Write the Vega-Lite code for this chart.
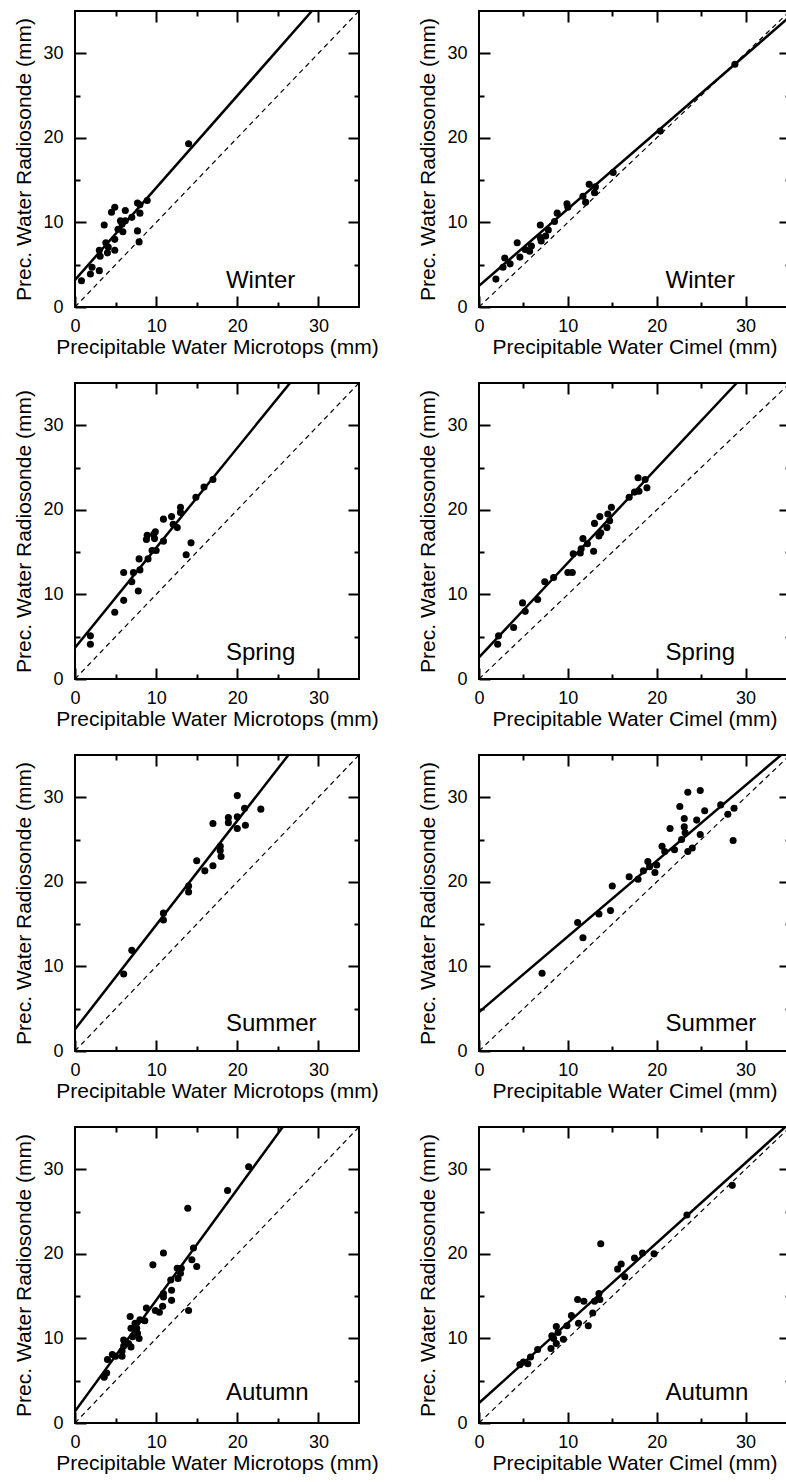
{
  "$schema": "https://vega.github.io/schema/vega-lite/v6.json",
  "padding": {"left": 12, "top": 7, "right": 0, "bottom": 0},
  "spacing": 21,
  "datasets": {
    "diag": [{"x": 0, "y": 0}, {"x": 35, "y": 35}],
    "labels": [
      {"p": "WM", "label": "Winter"}, {"p": "WC", "label": "Winter"},
      {"p": "SpM", "label": "Spring"}, {"p": "SpC", "label": "Spring"},
      {"p": "SuM", "label": "Summer"}, {"p": "SuC", "label": "Summer"},
      {"p": "AM", "label": "Autumn"}, {"p": "AC", "label": "Autumn"}
    ],
    "fits": [
      {"p": "WM", "x": 0, "y": 3.2}, {"p": "WM", "x": 29.2, "y": 35},
      {"p": "WC", "x": 0, "y": 2.5}, {"p": "WC", "x": 35, "y": 34.35},
      {"p": "SpM", "x": 0, "y": 3.7}, {"p": "SpM", "x": 26.5, "y": 35},
      {"p": "SpC", "x": 0, "y": 2.56}, {"p": "SpC", "x": 29.0, "y": 35},
      {"p": "SuM", "x": 0, "y": 2.56}, {"p": "SuM", "x": 26.3, "y": 35},
      {"p": "SuC", "x": 0, "y": 4.6}, {"p": "SuC", "x": 34.0, "y": 35},
      {"p": "AM", "x": 0, "y": 1.38}, {"p": "AM", "x": 25.6, "y": 35},
      {"p": "AC", "x": 0, "y": 2.36}, {"p": "AC", "x": 35, "y": 35.5}
    ],
    "points": [
      {"p":"WM","x":0.8,"y":3.1},{"p":"WM","x":1.9,"y":3.9},{"p":"WM","x":2.1,"y":4.7},{"p":"WM","x":3.0,"y":4.3},{"p":"WM","x":3.0,"y":6.7},{"p":"WM","x":3.1,"y":6.0},{"p":"WM","x":3.6,"y":9.7},{"p":"WM","x":3.8,"y":7.6},{"p":"WM","x":4.0,"y":6.4},{"p":"WM","x":4.1,"y":7.1},{"p":"WM","x":4.5,"y":11.2},{"p":"WM","x":4.9,"y":11.8},{"p":"WM","x":4.9,"y":8.0},{"p":"WM","x":4.9,"y":6.7},{"p":"WM","x":5.3,"y":9.2},{"p":"WM","x":5.6,"y":10.2},{"p":"WM","x":5.8,"y":9.8},{"p":"WM","x":5.9,"y":8.9},{"p":"WM","x":6.2,"y":11.4},{"p":"WM","x":6.2,"y":10.2},{"p":"WM","x":7.0,"y":10.6},{"p":"WM","x":7.7,"y":12.3},{"p":"WM","x":7.7,"y":9.0},{"p":"WM","x":7.9,"y":7.7},{"p":"WM","x":8.0,"y":11.1},{"p":"WM","x":8.0,"y":12.1},{"p":"WM","x":8.9,"y":12.6},{"p":"WM","x":14.0,"y":19.3},
      {"p":"WC","x":1.9,"y":3.3},{"p":"WC","x":2.7,"y":4.7},{"p":"WC","x":2.9,"y":5.8},{"p":"WC","x":3.5,"y":5.1},{"p":"WC","x":4.3,"y":7.6},{"p":"WC","x":4.6,"y":5.9},{"p":"WC","x":5.2,"y":6.8},{"p":"WC","x":5.7,"y":6.6},{"p":"WC","x":5.9,"y":7.2},{"p":"WC","x":6.9,"y":8.2},{"p":"WC","x":6.9,"y":9.7},{"p":"WC","x":7.0,"y":7.8},{"p":"WC","x":7.5,"y":8.4},{"p":"WC","x":7.8,"y":9.1},{"p":"WC","x":8.5,"y":10.1},{"p":"WC","x":8.8,"y":11.1},{"p":"WC","x":9.9,"y":12.2},{"p":"WC","x":10.0,"y":11.8},{"p":"WC","x":11.7,"y":13.1},{"p":"WC","x":12.0,"y":12.4},{"p":"WC","x":12.4,"y":14.5},{"p":"WC","x":13.0,"y":13.5},{"p":"WC","x":13.1,"y":14.2},{"p":"WC","x":15.1,"y":15.9},{"p":"WC","x":20.4,"y":20.8},{"p":"WC","x":28.8,"y":28.7},
      {"p":"SpM","x":1.9,"y":5.1},{"p":"SpM","x":1.9,"y":4.1},{"p":"SpM","x":4.9,"y":7.9},{"p":"SpM","x":6.0,"y":12.6},{"p":"SpM","x":6.0,"y":9.3},{"p":"SpM","x":7.0,"y":11.5},{"p":"SpM","x":7.2,"y":12.6},{"p":"SpM","x":7.9,"y":14.2},{"p":"SpM","x":8.0,"y":12.9},{"p":"SpM","x":7.8,"y":10.4},{"p":"SpM","x":8.8,"y":16.5},{"p":"SpM","x":8.9,"y":17.0},{"p":"SpM","x":9.0,"y":14.2},{"p":"SpM","x":9.5,"y":15.2},{"p":"SpM","x":9.7,"y":17.1},{"p":"SpM","x":9.9,"y":17.4},{"p":"SpM","x":9.8,"y":16.6},{"p":"SpM","x":10.0,"y":15.2},{"p":"SpM","x":10.9,"y":16.3},{"p":"SpM","x":10.9,"y":18.9},{"p":"SpM","x":11.9,"y":19.2},{"p":"SpM","x":12.1,"y":18.3},{"p":"SpM","x":12.6,"y":17.9},{"p":"SpM","x":13.0,"y":20.3},{"p":"SpM","x":13.0,"y":19.7},{"p":"SpM","x":13.7,"y":14.7},{"p":"SpM","x":14.3,"y":16.1},{"p":"SpM","x":14.9,"y":21.5},{"p":"SpM","x":15.9,"y":22.7},{"p":"SpM","x":17.0,"y":23.6},
      {"p":"SpC","x":2.1,"y":4.1},{"p":"SpC","x":2.2,"y":5.1},{"p":"SpC","x":3.9,"y":6.1},{"p":"SpC","x":4.9,"y":9.0},{"p":"SpC","x":5.2,"y":8.0},{"p":"SpC","x":6.6,"y":9.4},{"p":"SpC","x":7.4,"y":11.5},{"p":"SpC","x":8.4,"y":12.0},{"p":"SpC","x":10.0,"y":12.6},{"p":"SpC","x":10.5,"y":12.6},{"p":"SpC","x":10.6,"y":14.8},{"p":"SpC","x":11.4,"y":14.9},{"p":"SpC","x":11.5,"y":15.4},{"p":"SpC","x":11.7,"y":16.6},{"p":"SpC","x":12.2,"y":16.0},{"p":"SpC","x":12.9,"y":15.1},{"p":"SpC","x":13.0,"y":18.4},{"p":"SpC","x":13.5,"y":16.9},{"p":"SpC","x":13.6,"y":19.2},{"p":"SpC","x":13.7,"y":17.3},{"p":"SpC","x":14.4,"y":17.9},{"p":"SpC","x":14.5,"y":19.5},{"p":"SpC","x":14.7,"y":18.7},{"p":"SpC","x":14.9,"y":20.3},{"p":"SpC","x":16.9,"y":21.5},{"p":"SpC","x":17.5,"y":22.1},{"p":"SpC","x":17.9,"y":23.8},{"p":"SpC","x":18.0,"y":22.2},{"p":"SpC","x":18.7,"y":23.6},{"p":"SpC","x":18.9,"y":22.6},
      {"p":"SuM","x":6.0,"y":9.1},{"p":"SuM","x":7.0,"y":11.9},{"p":"SuM","x":10.9,"y":16.3},{"p":"SuM","x":10.9,"y":15.5},{"p":"SuM","x":14.0,"y":19.5},{"p":"SuM","x":14.0,"y":18.8},{"p":"SuM","x":15.0,"y":22.5},{"p":"SuM","x":16.0,"y":21.3},{"p":"SuM","x":17.0,"y":26.9},{"p":"SuM","x":17.0,"y":21.9},{"p":"SuM","x":17.9,"y":24.2},{"p":"SuM","x":17.9,"y":23.7},{"p":"SuM","x":18.0,"y":23.0},{"p":"SuM","x":18.9,"y":27.6},{"p":"SuM","x":18.9,"y":27.0},{"p":"SuM","x":20.0,"y":30.2},{"p":"SuM","x":20.0,"y":27.7},{"p":"SuM","x":20.0,"y":26.3},{"p":"SuM","x":20.9,"y":28.7},{"p":"SuM","x":21.0,"y":26.7},{"p":"SuM","x":22.9,"y":28.6},
      {"p":"SuC","x":7.1,"y":9.2},{"p":"SuC","x":11.1,"y":15.2},{"p":"SuC","x":11.7,"y":13.4},{"p":"SuC","x":13.5,"y":16.2},{"p":"SuC","x":14.8,"y":16.6},{"p":"SuC","x":15.0,"y":19.5},{"p":"SuC","x":16.9,"y":20.6},{"p":"SuC","x":17.9,"y":20.3},{"p":"SuC","x":18.5,"y":21.3},{"p":"SuC","x":19.0,"y":22.4},{"p":"SuC","x":19.2,"y":21.8},{"p":"SuC","x":19.8,"y":21.1},{"p":"SuC","x":20.0,"y":22.0},{"p":"SuC","x":20.6,"y":24.2},{"p":"SuC","x":20.9,"y":23.6},{"p":"SuC","x":21.5,"y":26.3},{"p":"SuC","x":22.0,"y":23.8},{"p":"SuC","x":22.6,"y":28.9},{"p":"SuC","x":22.8,"y":25.0},{"p":"SuC","x":23.1,"y":27.5},{"p":"SuC","x":23.1,"y":26.5},{"p":"SuC","x":23.2,"y":25.8},{"p":"SuC","x":23.5,"y":30.6},{"p":"SuC","x":23.5,"y":23.6},{"p":"SuC","x":24.0,"y":24.0},{"p":"SuC","x":24.5,"y":27.3},{"p":"SuC","x":24.9,"y":25.6},{"p":"SuC","x":24.9,"y":30.8},{"p":"SuC","x":25.4,"y":28.4},{"p":"SuC","x":27.2,"y":29.1},{"p":"SuC","x":28.0,"y":28.0},{"p":"SuC","x":28.6,"y":24.9},{"p":"SuC","x":28.7,"y":28.7},
      {"p":"AM","x":3.6,"y":5.4},{"p":"AM","x":3.9,"y":5.9},{"p":"AM","x":4.0,"y":7.5},{"p":"AM","x":4.6,"y":8.1},{"p":"AM","x":5.0,"y":7.9},{"p":"AM","x":5.8,"y":7.9},{"p":"AM","x":5.8,"y":8.5},{"p":"AM","x":6.0,"y":9.8},{"p":"AM","x":6.0,"y":9.1},{"p":"AM","x":6.6,"y":9.4},{"p":"AM","x":6.8,"y":12.6},{"p":"AM","x":6.9,"y":11.2},{"p":"AM","x":6.9,"y":9.0},{"p":"AM","x":7.1,"y":10.2},{"p":"AM","x":7.4,"y":11.8},{"p":"AM","x":7.6,"y":11.2},{"p":"AM","x":7.7,"y":10.6},{"p":"AM","x":7.9,"y":10.0},{"p":"AM","x":8.0,"y":12.2},{"p":"AM","x":8.6,"y":12.1},{"p":"AM","x":8.8,"y":13.6},{"p":"AM","x":9.6,"y":18.7},{"p":"AM","x":9.9,"y":13.3},{"p":"AM","x":10.4,"y":13.1},{"p":"AM","x":10.8,"y":13.8},{"p":"AM","x":10.9,"y":20.1},{"p":"AM","x":10.9,"y":14.9},{"p":"AM","x":10.9,"y":15.3},{"p":"AM","x":11.8,"y":16.9},{"p":"AM","x":11.9,"y":15.7},{"p":"AM","x":11.9,"y":14.5},{"p":"AM","x":12.6,"y":18.3},{"p":"AM","x":12.7,"y":17.1},{"p":"AM","x":13.0,"y":17.7},{"p":"AM","x":13.1,"y":18.3},{"p":"AM","x":13.9,"y":25.4},{"p":"AM","x":14.0,"y":13.3},{"p":"AM","x":14.4,"y":19.3},{"p":"AM","x":14.6,"y":20.7},{"p":"AM","x":15.0,"y":18.5},{"p":"AM","x":18.8,"y":27.5},{"p":"AM","x":21.4,"y":30.3},
      {"p":"AC","x":4.6,"y":6.9},{"p":"AC","x":5.0,"y":7.2},{"p":"AC","x":5.5,"y":7.0},{"p":"AC","x":5.8,"y":7.8},{"p":"AC","x":6.6,"y":8.7},{"p":"AC","x":8.1,"y":8.8},{"p":"AC","x":8.2,"y":10.3},{"p":"AC","x":8.4,"y":10.0},{"p":"AC","x":8.7,"y":11.4},{"p":"AC","x":8.9,"y":10.7},{"p":"AC","x":8.7,"y":9.4},{"p":"AC","x":9.5,"y":9.9},{"p":"AC","x":9.9,"y":11.5},{"p":"AC","x":10.4,"y":12.7},{"p":"AC","x":11.1,"y":14.6},{"p":"AC","x":11.2,"y":11.8},{"p":"AC","x":11.8,"y":14.4},{"p":"AC","x":12.3,"y":11.5},{"p":"AC","x":12.8,"y":13.0},{"p":"AC","x":13.0,"y":14.4},{"p":"AC","x":13.5,"y":15.3},{"p":"AC","x":13.6,"y":14.6},{"p":"AC","x":13.7,"y":21.2},{"p":"AC","x":15.6,"y":18.2},{"p":"AC","x":16.0,"y":18.8},{"p":"AC","x":16.4,"y":17.3},{"p":"AC","x":17.5,"y":19.5},{"p":"AC","x":18.4,"y":20.1},{"p":"AC","x":19.7,"y":20.0},{"p":"AC","x":23.4,"y":24.6},{"p":"AC","x":28.5,"y":28.1}
    ]
  },
  "vconcat": [
    {"hconcat": [
      {"width": 284, "height": 296, "resolve": {"axis": {"x": "independent", "y": "independent"}}, "layer": [
        {"data": {"name": "diag"}, "mark": {"type": "line", "color": "black", "strokeWidth": 1.2, "strokeDash": [5, 4]}, "encoding": {"x": {"field": "x", "type": "quantitative", "scale": {"domain": [0, 35], "nice": false, "zero": false}, "axis": {"orient": "top", "values": [10, 20, 30], "labels": false, "title": null, "tickSize": 11, "offset": -11}}, "y": {"field": "y", "type": "quantitative", "scale": {"domain": [0, 35], "nice": false, "zero": false}, "axis": {"orient": "right", "values": [10, 20, 30], "labels": false, "title": null, "tickSize": 11, "offset": -11}}}},
        {"data": {"name": "fits"}, "transform": [{"filter": "datum.p === 'WM'"}], "mark": {"type": "line", "color": "black", "strokeWidth": 2.5, "clip": true}, "encoding": {"x": {"field": "x", "type": "quantitative", "scale": {"domain": [0, 35], "nice": false, "zero": false}, "axis": {"orient": "top", "values": [5, 15, 25], "labels": false, "title": null, "tickSize": 5, "offset": -5}}, "y": {"field": "y", "type": "quantitative", "scale": {"domain": [0, 35], "nice": false, "zero": false}, "axis": {"orient": "right", "values": [5, 15, 25], "labels": false, "title": null, "tickSize": 5, "offset": -5}}}},
        {"data": {"name": "points"}, "transform": [{"filter": "datum.p === 'WM'"}], "mark": {"type": "circle", "color": "black", "size": 50, "opacity": 1}, "encoding": {"x": {"field": "x", "type": "quantitative", "scale": {"domain": [0, 35], "nice": false, "zero": false}, "axis": {"orient": "bottom", "title": "Precipitable Water Microtops (mm)", "values": [0, 10, 20, 30], "tickSize": 11, "offset": -11, "labelPadding": 10, "titlePadding": 1}}, "y": {"field": "y", "type": "quantitative", "scale": {"domain": [0, 35], "nice": false, "zero": false}, "axis": {"orient": "left", "title": "Prec. Water Radiosonde (mm)", "values": [0, 10, 20, 30], "tickSize": 11, "offset": -11, "labelPadding": 12, "titlePadding": 8}}}},
        {"data": {"name": "labels"}, "transform": [{"filter": "datum.p === 'WM'"}], "mark": {"type": "text", "align": "left", "baseline": "alphabetic", "fontSize": 24, "font": "Liberation Sans", "color": "black"}, "encoding": {"x": {"datum": 18.6, "type": "quantitative", "scale": {"domain": [0, 35], "nice": false, "zero": false}, "axis": {"orient": "bottom", "values": [5, 15, 25], "labels": false, "title": null, "tickSize": 5, "offset": -5}}, "y": {"datum": 2.2, "type": "quantitative", "scale": {"domain": [0, 35], "nice": false, "zero": false}, "axis": {"orient": "left", "values": [5, 15, 25], "labels": false, "title": null, "tickSize": 5, "offset": -5}}, "text": {"field": "label"}}}
      ]},
      {"width": 311, "height": 296, "resolve": {"axis": {"x": "independent", "y": "independent"}}, "layer": [
        {"data": {"name": "diag"}, "mark": {"type": "line", "color": "black", "strokeWidth": 1.2, "strokeDash": [5, 4]}, "encoding": {"x": {"field": "x", "type": "quantitative", "scale": {"domain": [0, 35], "nice": false, "zero": false}, "axis": {"orient": "top", "values": [10, 20, 30], "labels": false, "title": null, "tickSize": 11, "offset": -11}}, "y": {"field": "y", "type": "quantitative", "scale": {"domain": [0, 35], "nice": false, "zero": false}, "axis": {"orient": "right", "values": [10, 20, 30], "labels": false, "title": null, "tickSize": 11, "offset": -11}}}},
        {"data": {"name": "fits"}, "transform": [{"filter": "datum.p === 'WC'"}], "mark": {"type": "line", "color": "black", "strokeWidth": 2.5, "clip": true}, "encoding": {"x": {"field": "x", "type": "quantitative", "scale": {"domain": [0, 35], "nice": false, "zero": false}, "axis": {"orient": "top", "values": [5, 15, 25], "labels": false, "title": null, "tickSize": 5, "offset": -5}}, "y": {"field": "y", "type": "quantitative", "scale": {"domain": [0, 35], "nice": false, "zero": false}, "axis": {"orient": "right", "values": [5, 15, 25], "labels": false, "title": null, "tickSize": 5, "offset": -5}}}},
        {"data": {"name": "points"}, "transform": [{"filter": "datum.p === 'WC'"}], "mark": {"type": "circle", "color": "black", "size": 50, "opacity": 1}, "encoding": {"x": {"field": "x", "type": "quantitative", "scale": {"domain": [0, 35], "nice": false, "zero": false}, "axis": {"orient": "bottom", "title": "Precipitable Water Cimel (mm)", "values": [0, 10, 20, 30], "tickSize": 11, "offset": -11, "labelPadding": 10, "titlePadding": 1}}, "y": {"field": "y", "type": "quantitative", "scale": {"domain": [0, 35], "nice": false, "zero": false}, "axis": {"orient": "left", "title": "Prec. Water Radiosonde (mm)", "values": [0, 10, 20, 30], "tickSize": 11, "offset": -11, "labelPadding": 12, "titlePadding": 8}}}},
        {"data": {"name": "labels"}, "transform": [{"filter": "datum.p === 'WC'"}], "mark": {"type": "text", "align": "left", "baseline": "alphabetic", "fontSize": 24, "font": "Liberation Sans", "color": "black"}, "encoding": {"x": {"datum": 21.0, "type": "quantitative", "scale": {"domain": [0, 35], "nice": false, "zero": false}, "axis": {"orient": "bottom", "values": [5, 15, 25], "labels": false, "title": null, "tickSize": 5, "offset": -5}}, "y": {"datum": 2.2, "type": "quantitative", "scale": {"domain": [0, 35], "nice": false, "zero": false}, "axis": {"orient": "left", "values": [5, 15, 25], "labels": false, "title": null, "tickSize": 5, "offset": -5}}, "text": {"field": "label"}}}
      ]}
    ]},
    {"hconcat": [
      {"width": 284, "height": 296, "resolve": {"axis": {"x": "independent", "y": "independent"}}, "layer": [
        {"data": {"name": "diag"}, "mark": {"type": "line", "color": "black", "strokeWidth": 1.2, "strokeDash": [5, 4]}, "encoding": {"x": {"field": "x", "type": "quantitative", "scale": {"domain": [0, 35], "nice": false, "zero": false}, "axis": {"orient": "top", "values": [10, 20, 30], "labels": false, "title": null, "tickSize": 11, "offset": -11}}, "y": {"field": "y", "type": "quantitative", "scale": {"domain": [0, 35], "nice": false, "zero": false}, "axis": {"orient": "right", "values": [10, 20, 30], "labels": false, "title": null, "tickSize": 11, "offset": -11}}}},
        {"data": {"name": "fits"}, "transform": [{"filter": "datum.p === 'SpM'"}], "mark": {"type": "line", "color": "black", "strokeWidth": 2.5, "clip": true}, "encoding": {"x": {"field": "x", "type": "quantitative", "scale": {"domain": [0, 35], "nice": false, "zero": false}, "axis": {"orient": "top", "values": [5, 15, 25], "labels": false, "title": null, "tickSize": 5, "offset": -5}}, "y": {"field": "y", "type": "quantitative", "scale": {"domain": [0, 35], "nice": false, "zero": false}, "axis": {"orient": "right", "values": [5, 15, 25], "labels": false, "title": null, "tickSize": 5, "offset": -5}}}},
        {"data": {"name": "points"}, "transform": [{"filter": "datum.p === 'SpM'"}], "mark": {"type": "circle", "color": "black", "size": 50, "opacity": 1}, "encoding": {"x": {"field": "x", "type": "quantitative", "scale": {"domain": [0, 35], "nice": false, "zero": false}, "axis": {"orient": "bottom", "title": "Precipitable Water Microtops (mm)", "values": [0, 10, 20, 30], "tickSize": 11, "offset": -11, "labelPadding": 10, "titlePadding": 1}}, "y": {"field": "y", "type": "quantitative", "scale": {"domain": [0, 35], "nice": false, "zero": false}, "axis": {"orient": "left", "title": "Prec. Water Radiosonde (mm)", "values": [0, 10, 20, 30], "tickSize": 11, "offset": -11, "labelPadding": 12, "titlePadding": 8}}}},
        {"data": {"name": "labels"}, "transform": [{"filter": "datum.p === 'SpM'"}], "mark": {"type": "text", "align": "left", "baseline": "alphabetic", "fontSize": 24, "font": "Liberation Sans", "color": "black"}, "encoding": {"x": {"datum": 18.6, "type": "quantitative", "scale": {"domain": [0, 35], "nice": false, "zero": false}, "axis": {"orient": "bottom", "values": [5, 15, 25], "labels": false, "title": null, "tickSize": 5, "offset": -5}}, "y": {"datum": 2.2, "type": "quantitative", "scale": {"domain": [0, 35], "nice": false, "zero": false}, "axis": {"orient": "left", "values": [5, 15, 25], "labels": false, "title": null, "tickSize": 5, "offset": -5}}, "text": {"field": "label"}}}
      ]},
      {"width": 311, "height": 296, "resolve": {"axis": {"x": "independent", "y": "independent"}}, "layer": [
        {"data": {"name": "diag"}, "mark": {"type": "line", "color": "black", "strokeWidth": 1.2, "strokeDash": [5, 4]}, "encoding": {"x": {"field": "x", "type": "quantitative", "scale": {"domain": [0, 35], "nice": false, "zero": false}, "axis": {"orient": "top", "values": [10, 20, 30], "labels": false, "title": null, "tickSize": 11, "offset": -11}}, "y": {"field": "y", "type": "quantitative", "scale": {"domain": [0, 35], "nice": false, "zero": false}, "axis": {"orient": "right", "values": [10, 20, 30], "labels": false, "title": null, "tickSize": 11, "offset": -11}}}},
        {"data": {"name": "fits"}, "transform": [{"filter": "datum.p === 'SpC'"}], "mark": {"type": "line", "color": "black", "strokeWidth": 2.5, "clip": true}, "encoding": {"x": {"field": "x", "type": "quantitative", "scale": {"domain": [0, 35], "nice": false, "zero": false}, "axis": {"orient": "top", "values": [5, 15, 25], "labels": false, "title": null, "tickSize": 5, "offset": -5}}, "y": {"field": "y", "type": "quantitative", "scale": {"domain": [0, 35], "nice": false, "zero": false}, "axis": {"orient": "right", "values": [5, 15, 25], "labels": false, "title": null, "tickSize": 5, "offset": -5}}}},
        {"data": {"name": "points"}, "transform": [{"filter": "datum.p === 'SpC'"}], "mark": {"type": "circle", "color": "black", "size": 50, "opacity": 1}, "encoding": {"x": {"field": "x", "type": "quantitative", "scale": {"domain": [0, 35], "nice": false, "zero": false}, "axis": {"orient": "bottom", "title": "Precipitable Water Cimel (mm)", "values": [0, 10, 20, 30], "tickSize": 11, "offset": -11, "labelPadding": 10, "titlePadding": 1}}, "y": {"field": "y", "type": "quantitative", "scale": {"domain": [0, 35], "nice": false, "zero": false}, "axis": {"orient": "left", "title": "Prec. Water Radiosonde (mm)", "values": [0, 10, 20, 30], "tickSize": 11, "offset": -11, "labelPadding": 12, "titlePadding": 8}}}},
        {"data": {"name": "labels"}, "transform": [{"filter": "datum.p === 'SpC'"}], "mark": {"type": "text", "align": "left", "baseline": "alphabetic", "fontSize": 24, "font": "Liberation Sans", "color": "black"}, "encoding": {"x": {"datum": 21.0, "type": "quantitative", "scale": {"domain": [0, 35], "nice": false, "zero": false}, "axis": {"orient": "bottom", "values": [5, 15, 25], "labels": false, "title": null, "tickSize": 5, "offset": -5}}, "y": {"datum": 2.2, "type": "quantitative", "scale": {"domain": [0, 35], "nice": false, "zero": false}, "axis": {"orient": "left", "values": [5, 15, 25], "labels": false, "title": null, "tickSize": 5, "offset": -5}}, "text": {"field": "label"}}}
      ]}
    ]},
    {"hconcat": [
      {"width": 284, "height": 296, "resolve": {"axis": {"x": "independent", "y": "independent"}}, "layer": [
        {"data": {"name": "diag"}, "mark": {"type": "line", "color": "black", "strokeWidth": 1.2, "strokeDash": [5, 4]}, "encoding": {"x": {"field": "x", "type": "quantitative", "scale": {"domain": [0, 35], "nice": false, "zero": false}, "axis": {"orient": "top", "values": [10, 20, 30], "labels": false, "title": null, "tickSize": 11, "offset": -11}}, "y": {"field": "y", "type": "quantitative", "scale": {"domain": [0, 35], "nice": false, "zero": false}, "axis": {"orient": "right", "values": [10, 20, 30], "labels": false, "title": null, "tickSize": 11, "offset": -11}}}},
        {"data": {"name": "fits"}, "transform": [{"filter": "datum.p === 'SuM'"}], "mark": {"type": "line", "color": "black", "strokeWidth": 2.5, "clip": true}, "encoding": {"x": {"field": "x", "type": "quantitative", "scale": {"domain": [0, 35], "nice": false, "zero": false}, "axis": {"orient": "top", "values": [5, 15, 25], "labels": false, "title": null, "tickSize": 5, "offset": -5}}, "y": {"field": "y", "type": "quantitative", "scale": {"domain": [0, 35], "nice": false, "zero": false}, "axis": {"orient": "right", "values": [5, 15, 25], "labels": false, "title": null, "tickSize": 5, "offset": -5}}}},
        {"data": {"name": "points"}, "transform": [{"filter": "datum.p === 'SuM'"}], "mark": {"type": "circle", "color": "black", "size": 50, "opacity": 1}, "encoding": {"x": {"field": "x", "type": "quantitative", "scale": {"domain": [0, 35], "nice": false, "zero": false}, "axis": {"orient": "bottom", "title": "Precipitable Water Microtops (mm)", "values": [0, 10, 20, 30], "tickSize": 11, "offset": -11, "labelPadding": 10, "titlePadding": 1}}, "y": {"field": "y", "type": "quantitative", "scale": {"domain": [0, 35], "nice": false, "zero": false}, "axis": {"orient": "left", "title": "Prec. Water Radiosonde (mm)", "values": [0, 10, 20, 30], "tickSize": 11, "offset": -11, "labelPadding": 12, "titlePadding": 8}}}},
        {"data": {"name": "labels"}, "transform": [{"filter": "datum.p === 'SuM'"}], "mark": {"type": "text", "align": "left", "baseline": "alphabetic", "fontSize": 24, "font": "Liberation Sans", "color": "black"}, "encoding": {"x": {"datum": 18.6, "type": "quantitative", "scale": {"domain": [0, 35], "nice": false, "zero": false}, "axis": {"orient": "bottom", "values": [5, 15, 25], "labels": false, "title": null, "tickSize": 5, "offset": -5}}, "y": {"datum": 2.4, "type": "quantitative", "scale": {"domain": [0, 35], "nice": false, "zero": false}, "axis": {"orient": "left", "values": [5, 15, 25], "labels": false, "title": null, "tickSize": 5, "offset": -5}}, "text": {"field": "label"}}}
      ]},
      {"width": 311, "height": 296, "resolve": {"axis": {"x": "independent", "y": "independent"}}, "layer": [
        {"data": {"name": "diag"}, "mark": {"type": "line", "color": "black", "strokeWidth": 1.2, "strokeDash": [5, 4]}, "encoding": {"x": {"field": "x", "type": "quantitative", "scale": {"domain": [0, 35], "nice": false, "zero": false}, "axis": {"orient": "top", "values": [10, 20, 30], "labels": false, "title": null, "tickSize": 11, "offset": -11}}, "y": {"field": "y", "type": "quantitative", "scale": {"domain": [0, 35], "nice": false, "zero": false}, "axis": {"orient": "right", "values": [10, 20, 30], "labels": false, "title": null, "tickSize": 11, "offset": -11}}}},
        {"data": {"name": "fits"}, "transform": [{"filter": "datum.p === 'SuC'"}], "mark": {"type": "line", "color": "black", "strokeWidth": 2.5, "clip": true}, "encoding": {"x": {"field": "x", "type": "quantitative", "scale": {"domain": [0, 35], "nice": false, "zero": false}, "axis": {"orient": "top", "values": [5, 15, 25], "labels": false, "title": null, "tickSize": 5, "offset": -5}}, "y": {"field": "y", "type": "quantitative", "scale": {"domain": [0, 35], "nice": false, "zero": false}, "axis": {"orient": "right", "values": [5, 15, 25], "labels": false, "title": null, "tickSize": 5, "offset": -5}}}},
        {"data": {"name": "points"}, "transform": [{"filter": "datum.p === 'SuC'"}], "mark": {"type": "circle", "color": "black", "size": 50, "opacity": 1}, "encoding": {"x": {"field": "x", "type": "quantitative", "scale": {"domain": [0, 35], "nice": false, "zero": false}, "axis": {"orient": "bottom", "title": "Precipitable Water Cimel (mm)", "values": [0, 10, 20, 30], "tickSize": 11, "offset": -11, "labelPadding": 10, "titlePadding": 1}}, "y": {"field": "y", "type": "quantitative", "scale": {"domain": [0, 35], "nice": false, "zero": false}, "axis": {"orient": "left", "title": "Prec. Water Radiosonde (mm)", "values": [0, 10, 20, 30], "tickSize": 11, "offset": -11, "labelPadding": 12, "titlePadding": 8}}}},
        {"data": {"name": "labels"}, "transform": [{"filter": "datum.p === 'SuC'"}], "mark": {"type": "text", "align": "left", "baseline": "alphabetic", "fontSize": 24, "font": "Liberation Sans", "color": "black"}, "encoding": {"x": {"datum": 21.0, "type": "quantitative", "scale": {"domain": [0, 35], "nice": false, "zero": false}, "axis": {"orient": "bottom", "values": [5, 15, 25], "labels": false, "title": null, "tickSize": 5, "offset": -5}}, "y": {"datum": 2.4, "type": "quantitative", "scale": {"domain": [0, 35], "nice": false, "zero": false}, "axis": {"orient": "left", "values": [5, 15, 25], "labels": false, "title": null, "tickSize": 5, "offset": -5}}, "text": {"field": "label"}}}
      ]}
    ]},
    {"hconcat": [
      {"width": 284, "height": 296, "resolve": {"axis": {"x": "independent", "y": "independent"}}, "layer": [
        {"data": {"name": "diag"}, "mark": {"type": "line", "color": "black", "strokeWidth": 1.2, "strokeDash": [5, 4]}, "encoding": {"x": {"field": "x", "type": "quantitative", "scale": {"domain": [0, 35], "nice": false, "zero": false}, "axis": {"orient": "top", "values": [10, 20, 30], "labels": false, "title": null, "tickSize": 11, "offset": -11}}, "y": {"field": "y", "type": "quantitative", "scale": {"domain": [0, 35], "nice": false, "zero": false}, "axis": {"orient": "right", "values": [10, 20, 30], "labels": false, "title": null, "tickSize": 11, "offset": -11}}}},
        {"data": {"name": "fits"}, "transform": [{"filter": "datum.p === 'AM'"}], "mark": {"type": "line", "color": "black", "strokeWidth": 2.5, "clip": true}, "encoding": {"x": {"field": "x", "type": "quantitative", "scale": {"domain": [0, 35], "nice": false, "zero": false}, "axis": {"orient": "top", "values": [5, 15, 25], "labels": false, "title": null, "tickSize": 5, "offset": -5}}, "y": {"field": "y", "type": "quantitative", "scale": {"domain": [0, 35], "nice": false, "zero": false}, "axis": {"orient": "right", "values": [5, 15, 25], "labels": false, "title": null, "tickSize": 5, "offset": -5}}}},
        {"data": {"name": "points"}, "transform": [{"filter": "datum.p === 'AM'"}], "mark": {"type": "circle", "color": "black", "size": 50, "opacity": 1}, "encoding": {"x": {"field": "x", "type": "quantitative", "scale": {"domain": [0, 35], "nice": false, "zero": false}, "axis": {"orient": "bottom", "title": "Precipitable Water Microtops (mm)", "values": [0, 10, 20, 30], "tickSize": 11, "offset": -11, "labelPadding": 10, "titlePadding": 1}}, "y": {"field": "y", "type": "quantitative", "scale": {"domain": [0, 35], "nice": false, "zero": false}, "axis": {"orient": "left", "title": "Prec. Water Radiosonde (mm)", "values": [0, 10, 20, 30], "tickSize": 11, "offset": -11, "labelPadding": 12, "titlePadding": 8}}}},
        {"data": {"name": "labels"}, "transform": [{"filter": "datum.p === 'AM'"}], "mark": {"type": "text", "align": "left", "baseline": "alphabetic", "fontSize": 24, "font": "Liberation Sans", "color": "black"}, "encoding": {"x": {"datum": 18.6, "type": "quantitative", "scale": {"domain": [0, 35], "nice": false, "zero": false}, "axis": {"orient": "bottom", "values": [5, 15, 25], "labels": false, "title": null, "tickSize": 5, "offset": -5}}, "y": {"datum": 2.7, "type": "quantitative", "scale": {"domain": [0, 35], "nice": false, "zero": false}, "axis": {"orient": "left", "values": [5, 15, 25], "labels": false, "title": null, "tickSize": 5, "offset": -5}}, "text": {"field": "label"}}}
      ]},
      {"width": 311, "height": 296, "resolve": {"axis": {"x": "independent", "y": "independent"}}, "layer": [
        {"data": {"name": "diag"}, "mark": {"type": "line", "color": "black", "strokeWidth": 1.2, "strokeDash": [5, 4]}, "encoding": {"x": {"field": "x", "type": "quantitative", "scale": {"domain": [0, 35], "nice": false, "zero": false}, "axis": {"orient": "top", "values": [10, 20, 30], "labels": false, "title": null, "tickSize": 11, "offset": -11}}, "y": {"field": "y", "type": "quantitative", "scale": {"domain": [0, 35], "nice": false, "zero": false}, "axis": {"orient": "right", "values": [10, 20, 30], "labels": false, "title": null, "tickSize": 11, "offset": -11}}}},
        {"data": {"name": "fits"}, "transform": [{"filter": "datum.p === 'AC'"}], "mark": {"type": "line", "color": "black", "strokeWidth": 2.5, "clip": true}, "encoding": {"x": {"field": "x", "type": "quantitative", "scale": {"domain": [0, 35], "nice": false, "zero": false}, "axis": {"orient": "top", "values": [5, 15, 25], "labels": false, "title": null, "tickSize": 5, "offset": -5}}, "y": {"field": "y", "type": "quantitative", "scale": {"domain": [0, 35], "nice": false, "zero": false}, "axis": {"orient": "right", "values": [5, 15, 25], "labels": false, "title": null, "tickSize": 5, "offset": -5}}}},
        {"data": {"name": "points"}, "transform": [{"filter": "datum.p === 'AC'"}], "mark": {"type": "circle", "color": "black", "size": 50, "opacity": 1}, "encoding": {"x": {"field": "x", "type": "quantitative", "scale": {"domain": [0, 35], "nice": false, "zero": false}, "axis": {"orient": "bottom", "title": "Precipitable Water Cimel (mm)", "values": [0, 10, 20, 30], "tickSize": 11, "offset": -11, "labelPadding": 10, "titlePadding": 1}}, "y": {"field": "y", "type": "quantitative", "scale": {"domain": [0, 35], "nice": false, "zero": false}, "axis": {"orient": "left", "title": "Prec. Water Radiosonde (mm)", "values": [0, 10, 20, 30], "tickSize": 11, "offset": -11, "labelPadding": 12, "titlePadding": 8}}}},
        {"data": {"name": "labels"}, "transform": [{"filter": "datum.p === 'AC'"}], "mark": {"type": "text", "align": "left", "baseline": "alphabetic", "fontSize": 24, "font": "Liberation Sans", "color": "black"}, "encoding": {"x": {"datum": 21.0, "type": "quantitative", "scale": {"domain": [0, 35], "nice": false, "zero": false}, "axis": {"orient": "bottom", "values": [5, 15, 25], "labels": false, "title": null, "tickSize": 5, "offset": -5}}, "y": {"datum": 2.7, "type": "quantitative", "scale": {"domain": [0, 35], "nice": false, "zero": false}, "axis": {"orient": "left", "values": [5, 15, 25], "labels": false, "title": null, "tickSize": 5, "offset": -5}}, "text": {"field": "label"}}}
      ]}
    ]}
  ],
  "config": {
    "font": "Liberation Sans",
    "background": "white",
    "view": {"stroke": "black", "strokeWidth": 2},
    "concat": {"spacing": 36},
    "axis": {
      "domain": false,
      "grid": false,
      "ticks": true,
      "labelFont": "Liberation Sans",
      "labelFontSize": 18,
      "labelColor": "black",
      "labelFlush": false,
      "labelOverlap": false,
      "titleFont": "Liberation Sans",
      "titleFontSize": 21,
      "titleFontWeight": "normal",
      "titleColor": "black",
      "tickColor": "black",
      "tickWidth": 2,
      "tickOpacity": 1
    }
  }
}
